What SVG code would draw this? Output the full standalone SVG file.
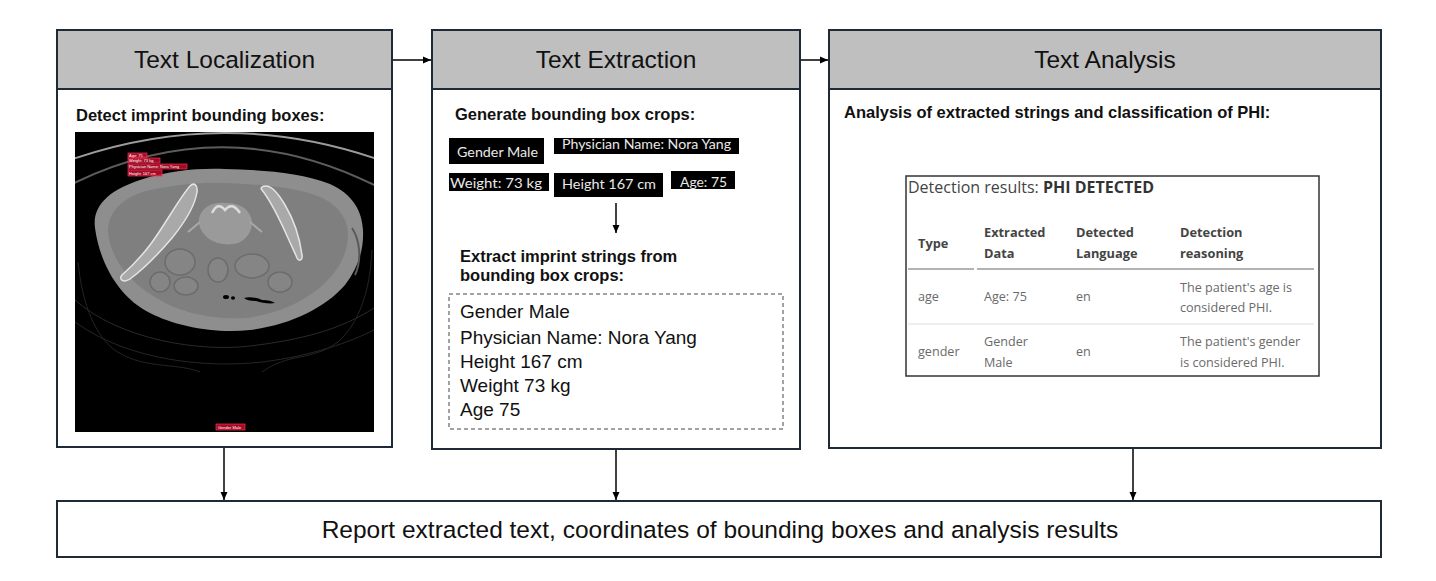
<svg xmlns="http://www.w3.org/2000/svg" width="1436" height="581" viewBox="0 0 1436 581">
<defs>
<style>
.panel{fill:#ffffff;stroke:#1e2b36;stroke-width:2}
.hdr{fill:#bfbfbf;stroke:#1e2b36;stroke-width:2}
.title{font-family:"Liberation Sans",Arial,sans-serif;font-size:24.5px;fill:#111;text-anchor:middle}
.sub{font-family:"Liberation Sans",Arial,sans-serif;font-weight:bold;font-size:16.5px;fill:#111}
.body{font-family:"Liberation Sans",Arial,sans-serif;font-size:19px;fill:#111}
.crop{fill:#000}
.croptxt{font-family:Lato,"Liberation Sans",sans-serif;font-size:14px;fill:#e8e8e8}
.conn{stroke:#000;stroke-width:1.5;fill:none}
.rbox{fill:#c8102e;fill-opacity:0.8;stroke:#ff2a55;stroke-width:0.7}
.rtxt{font-family:"Liberation Sans",Arial,sans-serif;font-size:4px;fill:#fff}
.tt{font-family:"Open Sans","Noto Sans",sans-serif;font-size:16px;fill:#444}
.th{font-family:"Open Sans","Noto Sans",sans-serif;font-size:12.8px;font-weight:bold;fill:#444}
.td{font-family:"Open Sans","Noto Sans",sans-serif;font-size:12.6px;fill:#6a6a6a}
.bone{fill:#a9a9a9;stroke:#e4e4e4;stroke-width:1.5}
.loop{fill:#858585;stroke:#6c6c6c;stroke-width:1.5}
</style>
<marker id="ah" markerWidth="8" markerHeight="8" refX="8" refY="4" orient="auto" markerUnits="userSpaceOnUse">
<path d="M0,0.5 L8,4 L0,7.5 z" fill="#000"/>
</marker>
<clipPath id="ctclip"><rect x="75" y="132" width="299" height="300"/></clipPath>
</defs>

<rect x="0" y="0" width="1436" height="581" fill="#ffffff"/>

<g id="text-localization">
<rect class="panel" x="57" y="30" width="335" height="417"/>
<rect class="hdr" x="57" y="30" width="335" height="59"/>
<text class="title" x="224.5" y="68">Text Localization</text>
<text class="sub" x="76" y="121">Detect imprint bounding boxes:</text>
<g id="ct-image">
<rect x="75" y="132" width="299" height="300" fill="#000"/>
<g clip-path="url(#ctclip)">
<path d="M70,160 Q225,106 380,160" fill="none" stroke="#9c9c9c" stroke-width="2"/>
<path d="M70,185 Q225,108 380,188" fill="none" stroke="#5c5c5c" stroke-width="2"/>
<path d="M75,300 C120,340 200,352 250,346 C300,340 340,330 374,308" fill="none" stroke="#2a2a2a" stroke-width="1"/>
<path d="M75,322 C130,362 210,368 262,362 C312,356 350,342 374,330" fill="none" stroke="#262626" stroke-width="1"/>
<path d="M78,262 C82,300 92,330 112,348 C140,370 175,362 200,372" fill="none" stroke="#242424" stroke-width="1"/>
<path d="M372,250 C370,290 360,322 338,342 C310,362 290,352 262,372" fill="none" stroke="#242424" stroke-width="1"/>
<path d="M95,228 C92,205 110,190 140,180 C170,170 200,168 225,169 C260,170 300,172 330,184 C352,194 362,210 363,230 C364,250 358,268 345,285 C325,308 290,325 250,330 C215,334 175,326 150,313 C120,298 100,265 95,228 Z" fill="#8e8e8e"/>
<path d="M108,232 C108,210 125,196 150,190 C180,184 205,182 225,183 C260,184 300,188 320,197 C340,206 348,220 348,235 C348,252 340,268 325,283 C305,302 275,315 245,318 C212,320 180,312 160,300 C130,284 110,258 108,232 Z" fill="#7f7f7f"/>
<path d="M352,228 C360,240 362,260 355,275" fill="none" stroke="#5a5a5a" stroke-width="2"/>
<ellipse class="loop" cx="180" cy="262" rx="15" ry="13"/>
<ellipse class="loop" cx="186" cy="286" rx="12" ry="9"/>
<ellipse class="loop" cx="160" cy="282" rx="10" ry="10"/>
<ellipse class="loop" cx="252" cy="266" rx="17" ry="12"/>
<ellipse class="loop" cx="280" cy="282" rx="12" ry="10"/>
<ellipse class="loop" cx="218" cy="270" rx="10" ry="12"/>
<path d="M200,215 C205,205 215,202 225,203 C237,203 245,206 250,215 C255,225 250,238 238,243 C228,246 215,244 208,238 C200,232 197,222 200,215 Z" fill="#9a9a9a"/>
<path d="M212,213 Q218,201 225,210 Q232,201 240,213" fill="none" stroke="#dcdcdc" stroke-width="2.5"/>
<path d="M200,222 L188,232 M250,222 L262,232" fill="none" stroke="#a8a8a8" stroke-width="2"/>
<path class="bone" d="M190,186 C178,200 165,225 150,245 C140,258 130,268 122,275 C118,280 124,283 130,279 C145,268 160,252 172,238 C185,222 195,205 197,192 C198,185 194,182 190,186 Z"/>
<path class="bone" d="M262,190 C270,200 280,220 288,238 C292,247 295,253 297,258 C299,262 303,260 302,255 C300,240 294,220 285,205 C278,193 272,186 266,186 C262,186 260,188 262,190 Z"/>
<ellipse cx="226" cy="297" rx="3" ry="2" fill="#000"/>
<ellipse cx="233" cy="298" rx="2" ry="1.8" fill="#000"/>
<path d="M244,298 C250,296 258,298 262,300 C268,300 272,301 275,303 C270,304 262,303 256,301 C250,301 246,300 244,298 Z" fill="#000"/>
</g>
<g id="imprint-boxes">
<rect class="rbox" x="128" y="153" width="19" height="5"/>
<text class="rtxt" x="129" y="157">Age: 75</text>
<rect class="rbox" x="128" y="158" width="32" height="5"/>
<text class="rtxt" x="129" y="162">Weight: 73 kg</text>
<rect class="rbox" x="128" y="164" width="59" height="5"/>
<text class="rtxt" x="129" y="168">Physician Name: Nora Yang</text>
<rect class="rbox" x="128" y="170" width="34" height="6"/>
<text class="rtxt" x="129" y="174.5">Height: 167 cm</text>
<rect class="rbox" x="216" y="424" width="29" height="6"/>
<text class="rtxt" x="218" y="428.5" fill="#e6b3c0">Gender Male</text>
</g>
</g>
</g>

<g id="text-extraction">
<rect class="panel" x="432" y="30" width="368" height="419"/>
<rect class="hdr" x="432" y="30" width="368" height="59"/>
<text class="title" x="616" y="68">Text Extraction</text>
<text class="sub" x="455" y="120">Generate bounding box crops:</text>
<g id="crops">
<rect class="crop" x="449" y="138" width="95" height="26"/>
<text class="croptxt" x="457" y="157" textLength="81" lengthAdjust="spacingAndGlyphs">Gender Male</text>
<rect class="crop" x="554" y="138" width="185" height="16"/>
<text class="croptxt" x="562" y="149" textLength="169" lengthAdjust="spacingAndGlyphs">Physician Name: Nora Yang</text>
<rect class="crop" x="449" y="173" width="100" height="18"/>
<text class="croptxt" x="450" y="188" textLength="92" lengthAdjust="spacingAndGlyphs">Weight: 73 kg</text>
<rect class="crop" x="554" y="173" width="109" height="24"/>
<text class="croptxt" x="562" y="189" textLength="94" lengthAdjust="spacingAndGlyphs">Height  167 cm</text>
<rect class="crop" x="671" y="171" width="64" height="18"/>
<text class="croptxt" x="680" y="187" textLength="47" lengthAdjust="spacingAndGlyphs">Age: 75</text>
</g>
<text class="sub" x="460" y="262">Extract imprint strings from</text>
<text class="sub" x="460" y="281">bounding box crops:</text>
<g id="extracted-strings">
<rect x="449" y="294" width="334" height="135" fill="none" stroke="#444" stroke-width="1" stroke-dasharray="4,3"/>
<text class="body" x="460" y="318">Gender Male</text>
<text class="body" x="460" y="344">Physician Name: Nora Yang</text>
<text class="body" x="460" y="368">Height 167 cm</text>
<text class="body" x="460" y="392">Weight 73 kg</text>
<text class="body" x="460" y="416">Age 75</text>
</g>
</g>

<g id="text-analysis">
<rect class="panel" x="829" y="30" width="552" height="418"/>
<rect class="hdr" x="829" y="30" width="552" height="59"/>
<text class="title" x="1105" y="68">Text Analysis</text>
<text class="sub" x="844" y="118">Analysis of extracted strings and classification of PHI:</text>
<g id="results-table">
<rect x="906" y="176" width="413" height="200" fill="#fff" stroke="#333" stroke-width="1.5"/>
<text class="tt" x="908" y="193">Detection results: <tspan font-weight="bold" fill="#333">PHI DETECTED</tspan></text>
<text class="th" x="918" y="248">Type</text>
<text class="th" x="984" y="237">Extracted</text>
<text class="th" x="984" y="258">Data</text>
<text class="th" x="1076" y="237">Detected</text>
<text class="th" x="1076" y="258">Language</text>
<text class="th" x="1180" y="237">Detection</text>
<text class="th" x="1180" y="258">reasoning</text>
<line x1="908" y1="269" x2="974" y2="269" stroke="#9a9a9a" stroke-width="1.5"/>
<line x1="977" y1="269" x2="1314" y2="269" stroke="#9a9a9a" stroke-width="1.5"/>
<text class="td" x="918" y="301">age</text>
<text class="td" x="984" y="301">Age: 75</text>
<text class="td" x="1076" y="301">en</text>
<text class="td" x="1180" y="292">The patient's age is</text>
<text class="td" x="1180" y="312">considered PHI.</text>
<line x1="908" y1="324" x2="1314" y2="324" stroke="#dedede" stroke-width="1"/>
<text class="td" x="918" y="356">gender</text>
<text class="td" x="984" y="346">Gender</text>
<text class="td" x="984" y="367">Male</text>
<text class="td" x="1076" y="356">en</text>
<text class="td" x="1180" y="346">The patient's gender</text>
<text class="td" x="1180" y="367">is considered PHI.</text>
</g>
</g>

<g id="report">
<rect class="panel" x="57" y="501" width="1324" height="56"/>
<text class="title" x="720" y="538">Report extracted text, coordinates of bounding boxes and analysis results</text>
</g>

<g id="connectors">
<line class="conn" x1="393" y1="60" x2="431" y2="60" marker-end="url(#ah)"/>
<line class="conn" x1="801" y1="60" x2="828" y2="60" marker-end="url(#ah)"/>
<line class="conn" x1="616" y1="203" x2="616" y2="233" marker-end="url(#ah)"/>
<line class="conn" x1="224" y1="448" x2="224" y2="500" marker-end="url(#ah)"/>
<line class="conn" x1="616" y1="450" x2="616" y2="500" marker-end="url(#ah)"/>
<line class="conn" x1="1133" y1="449" x2="1133" y2="500" marker-end="url(#ah)"/>
</g>
</svg>
